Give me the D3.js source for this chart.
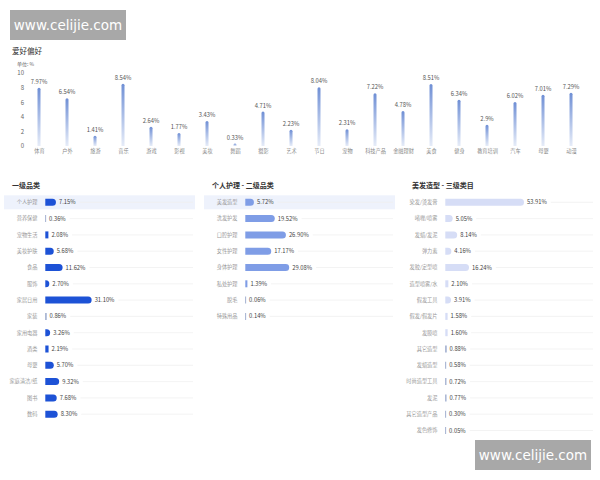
<!DOCTYPE html>
<html><head><meta charset="utf-8">
<script src="https://cdnjs.cloudflare.com/ajax/libs/d3/7.8.5/d3.min.js"></script>
<style>html,body{margin:0;padding:0;background:#fff;}svg{display:block;font-family:"Noto Sans CJK SC","Noto Sans",sans-serif;}</style>
</head><body><svg id="c" width="600" height="480"></svg>
<script>
const hobbyCats = ["体育","户外","旅游","音乐","游戏","影视","美妆","舞蹈","摄影","艺术","节日","宠物","科技产品","金融理财","美食","健身","教育培训","汽车","母婴","动漫"];
const hobbyVals = [7.97,6.54,1.41,8.54,2.64,1.77,3.43,0.33,4.71,2.23,8.04,2.31,7.22,4.78,8.51,6.34,2.9,6.02,7.01,7.29];
const hobbyLabels = ["7.97%","6.54%","1.41%","8.54%","2.64%","1.77%","3.43%","0.33%","4.71%","2.23%","8.04%","2.31%","7.22%","4.78%","8.51%","6.34%","2.9%","6.02%","7.01%","7.29%"];
const yTicks = [0,2,4,6,8,10];

const level1Cats = ["个人护理","营养保健","宠物生活","美妆护肤","食品","服饰","家居日用","家装","家用电器","酒类","母婴","家庭清洁/纸","图书","数码"];
const level1Vals = [7.15,0.36,2.08,5.68,11.62,2.70,31.10,0.86,3.26,2.19,5.70,9.32,7.68,8.30];

const level2Cats = ["美发造型","洗发护发","口腔护理","女性护理","身体护理","私处护理","脱毛","特殊用品"];
const level2Vals = [5.72,19.52,26.90,17.17,29.08,1.39,0.06,0.14];

const level3Cats = ["染发/烫发膏","啫喱/喷雾","发蜡/发泥","弹力素","发胶/定型喷","造型喷雾/水","假发工具","假发/假发片","发膜喷","其它造型","发蜡造型","时尚造型工具","发泥","其它造型产品","发色修饰"];
const level3Vals = [53.91,5.05,8.14,4.16,16.24,2.10,3.91,1.58,1.60,0.88,0.58,0.72,0.77,0.30,0.05];

const svg = d3.select("#c");

// watermark boxes
function watermark(x,y){
  svg.append("rect").attr("x",x).attr("y",y).attr("width",116).attr("height",30).attr("fill","#a8a8a8");
  svg.append("text").attr("x",x+58).attr("y",y+20).attr("text-anchor","middle").attr("fill","#fff")
    .attr("font-size",13.5).attr("font-family","DejaVu Sans, sans-serif").text("www.celijie.com");
}

// ---- top chart ----
svg.append("text").attr("x",12).attr("y",54).attr("font-size",7.5).attr("fill","#333").text("爱好偏好");
svg.append("text").attr("x",17).attr("y",66).attr("font-size",5).attr("fill","#666").text("单位: %");

const x = d3.scalePoint().domain(hobbyCats).range([25,585]).padding(0.5);
const y = d3.scaleLinear().domain([0,10]).range([146,73]);

const defs = svg.append("defs");
const grad = defs.append("linearGradient").attr("id","bg").attr("x1",0).attr("y1",0).attr("x2",0).attr("y2",1);
grad.append("stop").attr("offset","0%").attr("stop-color","#6f8fd5");
grad.append("stop").attr("offset","100%").attr("stop-color","#e6ecf8");

const yAxis = svg.append("g").attr("transform","translate(24,0)")
  .call(d3.axisLeft(y).tickValues(yTicks).tickSize(0).tickPadding(0));
yAxis.select(".domain").remove();
yAxis.selectAll("text").attr("font-size",6).attr("fill","#666").attr("font-family","Noto Sans CJK SC, sans-serif");

const bw = 3;
svg.append("g").selectAll("path").data(hobbyVals).join("path")
  .attr("d",(d,i)=>{
    const cx = x(hobbyCats[i]), x0 = cx-bw/2, x1 = cx+bw/2, yt = y(d), yb = y(0), r = bw/2;
    return `M${x0},${yb}V${yt+r}A${r},${r} 0 0 1 ${x1},${yt+r}V${yb}Z`;
  })
  .attr("fill","url(#bg)");

svg.append("g").selectAll("text").data(hobbyVals).join("text")
  .attr("x",(d,i)=>x(hobbyCats[i])).attr("y",d=>y(d)-4)
  .attr("text-anchor","middle").attr("font-size",5.8).attr("fill","#555")
  .text((d,i)=>hobbyLabels[i]);

const xAxis = svg.append("g").attr("transform","translate(0,150)")
  .call(d3.axisBottom(x).tickSize(0).tickPadding(0));
xAxis.select(".domain").remove();
xAxis.selectAll("text").attr("font-size",5.2).attr("fill","#888").attr("dy","0.6em").attr("font-family","Noto Sans CJK SC, sans-serif");

// ---- bottom panels ----
function panel(px, title, cats, vals, maxPx, color, highlight){
  const g = svg.append("g").attr("transform",`translate(${px},0)`);
  g.append("text").attr("x",12).attr("y",188).attr("font-size",7).attr("font-weight","bold").attr("fill","#333").text(title);
  const ry = d3.scaleLinear().domain([0,1]).range([202.3,218.6]);
  const xs = d3.scaleLinear().domain([0,100]).range([0,maxPx]);
  const x0 = 45.3, h = 7;
  if(highlight){
    g.append("rect").attr("x",4).attr("y",ry(0)-7).attr("width",191).attr("height",14).attr("fill","#eef2fc");
  }
  cats.forEach((c,i)=>{
    const cy = ry(i);
    const v = vals[i];
    const w = Math.max(xs(v), 0.8);
    g.append("text").attr("x",37.5).attr("y",cy).attr("dy","0.35em").attr("text-anchor","end")
      .attr("font-size",5.2).attr("fill","#999").text(c);
    const r = Math.min(h/2, w);
    const x1 = x0 + w;
    let d;
    if (w > h/2) d = `M${x0},${cy-h/2}H${x1-r}A${r},${r} 0 0 1 ${x1},${cy}A${r},${r} 0 0 1 ${x1-r},${cy+h/2}H${x0}Z`;
    else d = `M${x0},${cy-h/2}H${x1}V${cy+h/2}H${x0}Z`;
    g.append("path").attr("d",d).attr("fill", w < 2 ? "#8a9cc4" : color);
    const t = g.append("text").attr("x",x1+3).attr("y",cy).attr("dy","0.35em")
      .attr("font-size",5.8).attr("fill","#444").text(v.toFixed(2)+"%");
    const tl = t.node().getComputedTextLength();
    g.append("line").attr("x1",x1+3+tl+4).attr("x2",193).attr("y1",cy).attr("y2",cy)
      .attr("stroke","#f0f0f0").attr("stroke-width",0.8);
  });
}
panel(0,"一级品类",level1Cats,level1Vals,149,"#1d52d6",true);
panel(200,"个人护理 - 二级品类",level2Cats,level2Vals,151,"#7f9de6",true);
panel(400,"美发造型 - 三级类目",level3Cats,level3Vals,146,"#d6ddf6",false);

watermark(10,10);
watermark(475,440);
</script></body></html>
